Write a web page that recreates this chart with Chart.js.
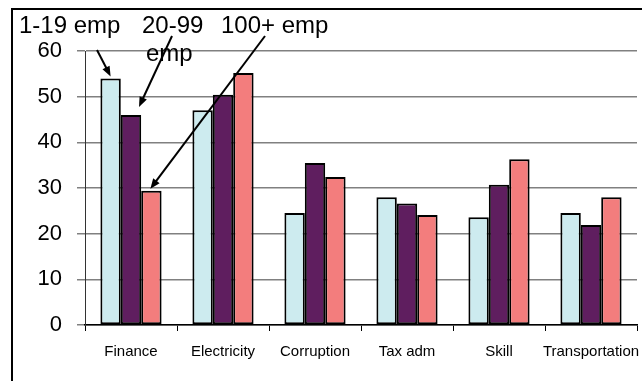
<!DOCTYPE html>
<html>
<head>
<meta charset="utf-8">
<script src="https://cdn.jsdelivr.net/npm/chart.js@4/dist/chart.umd.min.js"></script>
<style>
  html, body { margin: 0; padding: 0; background: #fff; }
  #wrap { width: 642px; height: 381px; position: relative; }
</style>
</head>
<body>
<div id="wrap"><canvas id="chart"></canvas></div>
<script>
// chart values
const categories = ['Finance', 'Electricity', 'Corruption', 'Tax adm', 'Skill', 'Transportation'];
const seriesNames = ['1-19 emp', '20-99 emp', '100+ emp'];
const small = [54, 47, 24.5, 28, 23.6, 24.5];
const medium = [46, 50.4, 35.5, 26.6, 30.7, 21.9];
const large = [29.4, 55.2, 32.4, 24.1, 36.3, 28];
const yTicks = [0, 10, 20, 30, 40, 50, 60];

const colors = ['#CDEBEF', '#5F1E5F', '#F37D7D'];
const FONT = '"Liberation Sans", Arial, sans-serif';

// outer frame (only left and top edges are visible in the picture)
const framePlugin = {
  id: 'frame',
  beforeDraw(chart) {
    const ctx = chart.ctx;
    ctx.save();
    ctx.strokeStyle = '#000';
    ctx.lineWidth = 2;
    ctx.beginPath();
    ctx.moveTo(12, 381);
    ctx.lineTo(12, 9);
    ctx.lineTo(642, 9);
    ctx.stroke();
    ctx.restore();
  }
};

function arrow(ctx, x1, y1, x2, y2) {
  const ang = Math.atan2(y2 - y1, x2 - x1);
  const len = 10;
  const half = 4;
  ctx.beginPath();
  ctx.moveTo(x1, y1);
  ctx.lineTo(x2 - Math.cos(ang) * len * 0.6, y2 - Math.sin(ang) * len * 0.6);
  ctx.stroke();
  ctx.beginPath();
  ctx.moveTo(x2, y2);
  ctx.lineTo(x2 - Math.cos(ang) * len - Math.sin(ang) * half, y2 - Math.sin(ang) * len + Math.cos(ang) * half);
  ctx.lineTo(x2 - Math.cos(ang) * len + Math.sin(ang) * half, y2 - Math.sin(ang) * len - Math.cos(ang) * half);
  ctx.closePath();
  ctx.fill();
}

// series labels with arrows pointing at the Finance bars
const labelPlugin = {
  id: 'seriesLabels',
  afterDraw(chart) {
    const ctx = chart.ctx;
    ctx.save();
    ctx.fillStyle = '#000';
    ctx.strokeStyle = '#000';
    ctx.lineWidth = 2;
    ctx.font = '24px ' + FONT;
    ctx.textBaseline = 'alphabetic';
    ctx.textAlign = 'left';
    ctx.fillText('1-19 emp', 19, 33);
    ctx.fillText('20-99', 142, 33);
    ctx.fillText('emp', 146, 61);
    ctx.fillText('100+ emp', 221, 33);

    const b0 = chart.getDatasetMeta(0).data[0];
    const b1 = chart.getDatasetMeta(1).data[0];
    const b2 = chart.getDatasetMeta(2).data[0];
    arrow(ctx, 97, 50, b0.x, b0.y - 2);
    arrow(ctx, 172, 36, b1.x + 8, b1.y - 8);
    arrow(ctx, 265, 36, b2.x - 1, b2.y - 2);
    ctx.restore();
  }
};

const datasets = [small, medium, large].map((vals, i) => ({
  label: seriesNames[i],
  data: vals,
  backgroundColor: colors[i],
  borderColor: '#000',
  borderWidth: 2,
  borderSkipped: false,
  barPercentage: 1,
  categoryPercentage: 0.665
}));

const chart = new Chart(document.getElementById('chart'), {
  type: 'bar',
  data: { labels: categories, datasets: datasets },
  options: {
    responsive: true,
    maintainAspectRatio: false,
    animation: false,
    layout: { padding: { top: 51, right: 5, left: 0, bottom: 0 } },
    plugins: {
      legend: { display: false },
      tooltip: { enabled: false }
    },
    scales: {
      x: {
        grid: {
          display: true,
          offset: true,
          drawOnChartArea: false,
          drawTicks: true,
          tickLength: 6,
          color: '#000',
          lineWidth: 1
        },
        border: { display: true, color: '#000', width: 1.5 },
        ticks: {
          color: '#000',
          font: { family: FONT, size: 15 },
          padding: 12,
          maxRotation: 0,
          autoSkip: false
        },
        afterFit(scale) {
          scale.height = 56;
          scale.paddingLeft = 0;
          scale.paddingRight = 0;
        }
      },
      y: {
        min: 0,
        max: 60,
        afterBuildTicks(scale) {
          scale.ticks = yTicks.map((v) => ({ value: v }));
        },
        grid: {
          color: '#808080',
          lineWidth: 1.5,
          tickLength: 8,
          drawTicks: true
        },
        border: { display: true, color: '#333', width: 1 },
        ticks: {
          color: '#000',
          font: { family: FONT, size: 22 },
          padding: 15
        },
        afterFit(scale) {
          scale.width = 85;
          scale.paddingTop = 0;
          scale.paddingBottom = 0;
        }
      }
    }
  },
  plugins: [framePlugin, labelPlugin]
});
</script>
</body>
</html>
